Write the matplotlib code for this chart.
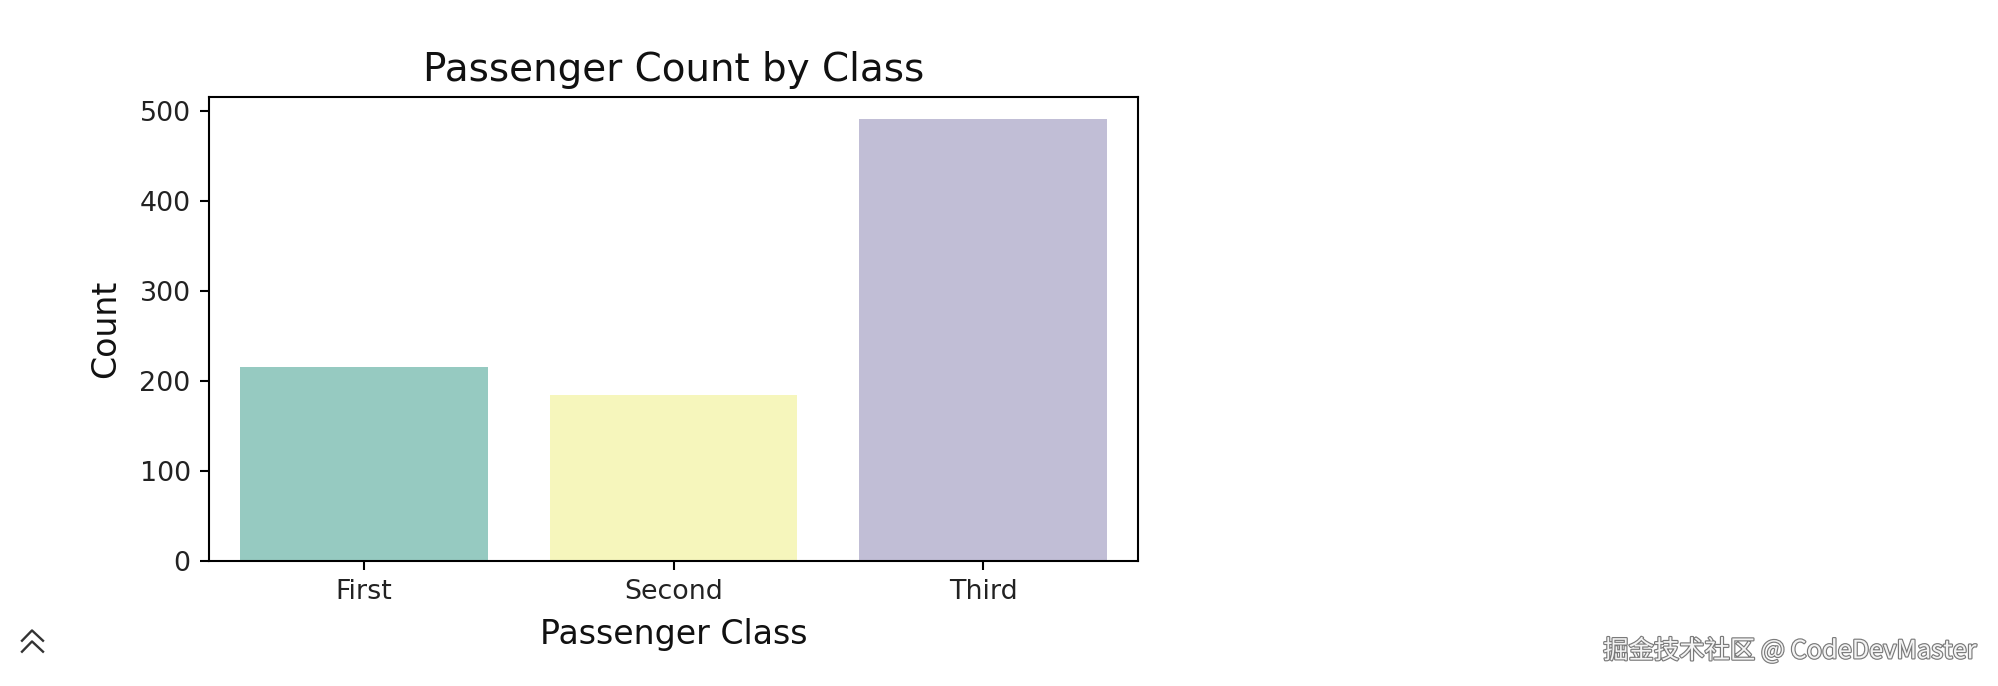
import colorsys

import matplotlib.pyplot as plt
from matplotlib import colors as mcolors
from matplotlib import patheffects

classes = ["First", "Second", "Third"]
counts = [216, 184, 491]
palette = ["#8dd3c7", "#ffffb3", "#bebada"]  # Set3


def desaturate(color, prop=0.75):
    """Same desaturation seaborn applies to bar fills (saturation=0.75)."""
    r, g, b = mcolors.to_rgb(color)
    h, l, s = colorsys.rgb_to_hls(r, g, b)
    return colorsys.hls_to_rgb(h, l, s * prop)


DPI = 188
fig = plt.figure(figsize=(1998 / DPI, 686 / DPI), dpi=DPI)
ax = fig.add_axes([0.1046, 0.1822, 0.465, 0.6764])

ax.bar(classes, counts, width=0.8, color=[desaturate(c) for c in palette])
ax.set_xlim(-0.5, len(classes) - 0.5)
ax.tick_params(labelsize=10.3, labelcolor="#222222")
ax.set_title("Passenger Count by Class", fontsize=14.9, color="#111111")
ax.set_xlabel("Passenger Class", fontsize=12.7, labelpad=5, color="#111111")
ax.set_ylabel("Count", fontsize=12.7, labelpad=6.5, color="#111111")

# page decorations from the screenshot
fig.text(0.989, 0.051, "掘金技术社区 @ CodeDevMaster", ha="right", va="center",
         fontsize=9.7, color="#f4f4f4",
         family=["Noto Sans CJK SC", "DejaVu Sans"],
         path_effects=[patheffects.withStroke(linewidth=0.9, foreground="#7a7a7a")])
for y0 in (0.081, 0.065):
    fig.add_artist(plt.Line2D([22 / 1998, 32 / 1998, 43 / 1998],
                              [y0 - 0.015, y0, y0 - 0.015],
                              transform=fig.transFigure, color="#333333", lw=0.9))

fig.savefig("out.png", dpi=DPI)
